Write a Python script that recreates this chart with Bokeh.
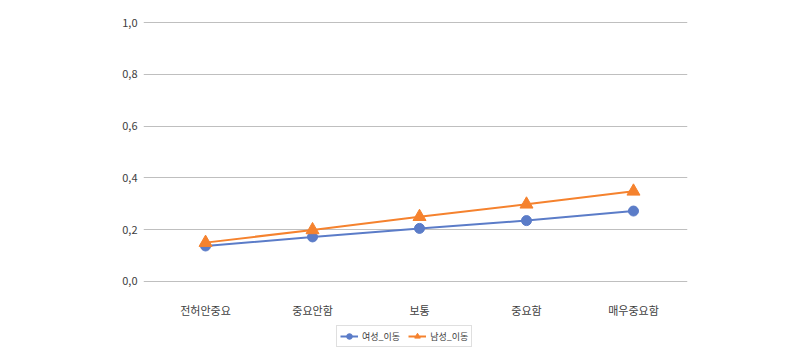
from bokeh.plotting import figure
from bokeh.embed import file_html
from bokeh.resources import INLINE
from bokeh.layouts import column
from bokeh.models import ColumnDataSource, FixedTicker, CustomJSTickFormatter, Legend, LegendItem

categories = ["전허안중요", "중요안함", "보통", "중요함", "매우중요함"]
female = [0.137, 0.172, 0.205, 0.235, 0.272]
male = [0.150, 0.199, 0.250, 0.298, 0.348]
y_ticks = [0.0, 0.2, 0.4, 0.6, 0.8, 1.0]
series_names = ["여성_이동", "남성_이동"]

FONT = "Noto Sans CJK KR"
BLUE = "#5B7CC8"
ORANGE = "#F5822E"
TEXT = "#404040"

xs = list(range(len(categories)))
src = ColumnDataSource(dict(x=xs, female=female, male=male))

p = figure(width=800, height=320, output_backend="svg", toolbar_location=None,
           x_range=(-0.58, 4.505), y_range=(-0.004, 1.004),
           min_border_left=143, min_border_right=113, min_border_top=21, min_border_bottom=29)
p.outline_line_color = None
p.background_fill_color = "white"
p.border_fill_color = "white"

p.line("x", "female", source=src, line_color=BLUE, line_width=2)
p.scatter("x", "female", source=src, marker="circle", size=10, fill_color=BLUE, line_color=BLUE)
p.line("x", "male", source=src, line_color=ORANGE, line_width=2)
p.scatter("x", "male", source=src, marker="triangle", size=13, fill_color=ORANGE, line_color=ORANGE)

p.xaxis.ticker = FixedTicker(ticks=xs)
p.xaxis.major_label_overrides = {i: c for i, c in enumerate(categories)}
p.yaxis.ticker = FixedTicker(ticks=y_ticks)
p.yaxis.formatter = CustomJSTickFormatter(code="return tick.toFixed(1).replace('.', ',');")

for ax in (p.xaxis[0], p.yaxis[0]):
    ax.axis_line_color = None
    ax.major_tick_line_color = None
    ax.minor_tick_line_color = None
    ax.major_label_text_font = FONT
    ax.major_label_text_font_size = "11px"
    ax.major_label_text_color = TEXT
p.xaxis.major_label_standoff = 13
p.yaxis.major_label_standoff = 0

p.xgrid.grid_line_color = None
p.ygrid.grid_line_color = "#BFBFBF"
p.ygrid.grid_line_width = 1

# legend strip: a small figure holding only the legend (its ranges keep the
# series themselves out of view, so only the legend swatches show)
lg = figure(width=800, height=36, output_backend="svg", toolbar_location=None,
            x_range=(100, 101), y_range=(100, 101), min_border=0,
            x_axis_type=None, y_axis_type=None)
lg.outline_line_color = None
lg.grid.visible = False
r1 = lg.line("x", "female", source=src, line_color=BLUE, line_width=2)
s1 = lg.scatter("x", "female", source=src, marker="circle", size=7, fill_color=BLUE, line_color=BLUE)
r2 = lg.line("x", "male", source=src, line_color=ORANGE, line_width=2)
s2 = lg.scatter("x", "male", source=src, marker="triangle", size=9, fill_color=ORANGE, line_color=ORANGE)

legend = Legend(items=[LegendItem(label=series_names[0], renderers=[r1, s1]),
                       LegendItem(label=series_names[1], renderers=[r2, s2])],
                orientation="horizontal", location=(193, 9))
legend.label_text_font = FONT
legend.label_text_font_size = "9px"
legend.label_text_color = TEXT
legend.border_line_color = "#BFBFBF"
legend.border_line_width = 1
legend.padding = 3
legend.spacing = 8
legend.margin = 0
legend.glyph_width = 18
legend.glyph_height = 14
legend.label_height = 14
legend.label_standoff = 4
legend.background_fill_alpha = 1
lg.add_layout(legend, "center")

layout = column(p, lg, spacing=0)
open("out.html", "w").write(file_html(layout, INLINE))
